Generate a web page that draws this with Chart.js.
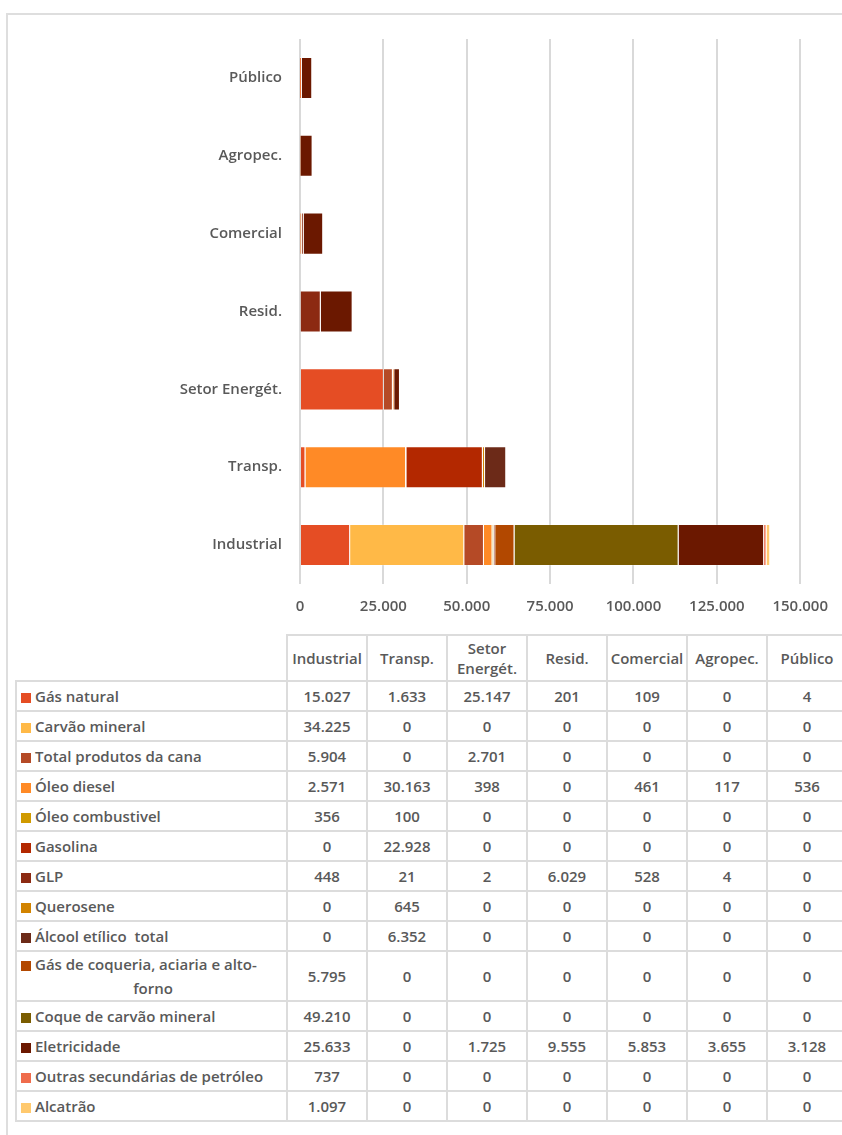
<!DOCTYPE html>
<html>
<head>
<meta charset="utf-8">
<script src="https://cdn.jsdelivr.net/npm/chart.js@4"></script>
<style>
  html, body { margin: 0; padding: 0; background: #fff; width: 842px; height: 1135px; overflow: hidden; position: relative; }
  body { font-family: "Open Sans", sans-serif; color: #595959; }
  #frame { position: absolute; left: 6px; top: 13px; width: 900px; height: 1200px; border: 2px solid #dedede; box-sizing: border-box; }
  #chart { position: absolute; left: 0; top: 0; }
  #tbl { position: absolute; left: 15px; top: 634px; width: 831px; border-collapse: collapse; table-layout: fixed; font-size: 15px; font-weight: 600; }
  #tbl td, #tbl th { border: 2px solid #dcdcdc; padding: 0 1px; font-weight: 600; text-align: center; line-height: 20px; }
  #tbl th.corner { border-top: hidden; border-left: hidden; }
  #tbl tr.head { height: 46px; }
  #tbl tr.row { height: 30px; }
  #tbl td.lab { text-align: left; padding-left: 4px; white-space: pre-wrap; line-height: 24px; }
  #tbl td.lab.wrap { text-align: left; text-align-last: center; }
  .sw { display: inline-block; width: 10px; height: 10px; margin-right: 4px; vertical-align: -1px; }
</style>
</head>
<body>
<div id="frame"></div>
<canvas id="chart" width="842" height="624"></canvas>
<table id="tbl"></table>
<script>
// categories (table order, bottom to top in the chart)
const categories = ['Industrial', 'Transp.', 'Setor Energét.', 'Resid.', 'Comercial', 'Agropec.', 'Público'];

// series values per category
const gasNatural       = [15027, 1633, 25147, 201, 109, 0, 4];
const carvaoMineral    = [34225, 0, 0, 0, 0, 0, 0];
const produtosCana     = [5904, 0, 2701, 0, 0, 0, 0];
const oleoDiesel       = [2571, 30163, 398, 0, 461, 117, 536];
const oleoCombustivel  = [356, 100, 0, 0, 0, 0, 0];
const gasolina         = [0, 22928, 0, 0, 0, 0, 0];
const glp              = [448, 21, 2, 6029, 528, 4, 0];
const querosene        = [0, 645, 0, 0, 0, 0, 0];
const alcoolEtilico    = [0, 6352, 0, 0, 0, 0, 0];
const gasCoqueria      = [5795, 0, 0, 0, 0, 0, 0];
const coqueCarvao      = [49210, 0, 0, 0, 0, 0, 0];
const eletricidade     = [25633, 0, 1725, 9555, 5853, 3655, 3128];
const outrasPetroleo   = [737, 0, 0, 0, 0, 0, 0];
const alcatrao         = [1097, 0, 0, 0, 0, 0, 0];

const seriesNames = ['Gás natural', 'Carvão mineral', 'Total produtos da cana', 'Óleo diesel', 'Óleo combustivel',
  'Gasolina', 'GLP', 'Querosene', 'Álcool etílico  total', 'Gás de coqueria, aciaria e alto-forno',
  'Coque de carvão mineral', 'Eletricidade', 'Outras secundárias de petróleo', 'Alcatrão'];
const seriesValues = [gasNatural, carvaoMineral, produtosCana, oleoDiesel, oleoCombustivel, gasolina, glp,
  querosene, alcoolEtilico, gasCoqueria, coqueCarvao, eletricidade, outrasPetroleo, alcatrao];
const seriesColors = ['#e54d24', '#ffb947', '#b54a26', '#ff8a26', '#d09a00', '#b32800', '#8c2a12',
  '#d28300', '#6c2a18', '#b24800', '#7a5c00', '#6b1800', '#ef6c4c', '#ffc96e'];

// x axis ticks
const xTicks = [0, 25000, 50000, 75000, 100000, 125000, 150000];

function fmt(v) {
  return String(v).replace(/\B(?=(\d{3})+(?!\d))/g, '.');
}

const datasets = seriesNames.map((name, i) => ({
  label: name,
  data: seriesValues[i],
  backgroundColor: seriesColors[i],
  borderColor: 'rgba(255,255,255,0.2)',
  borderWidth: 1,
  barPercentage: 0.54,
  categoryPercentage: 1
}));

const tickFont = { family: 'Open Sans', size: 15, weight: '600' };

new Chart(document.getElementById('chart'), {
  type: 'bar',
  data: { labels: categories, datasets: datasets },
  options: {
    indexAxis: 'y',
    responsive: false,
    animation: false,
    layout: { padding: { top: 39, right: 39, left: 0, bottom: 0 } },
    plugins: { legend: { display: false }, tooltip: { enabled: false } },
    scales: {
      x: {
        stacked: true,
        min: 0,
        max: 150000,
        afterBuildTicks: (scale) => { scale.ticks = xTicks.map(v => ({ value: v })); },
        afterFit: (scale) => { scale.height = 40; },
        grid: { color: '#d9d9d9', lineWidth: 2, drawTicks: false },
        border: { display: false },
        ticks: { color: '#595959', font: tickFont, padding: 14, callback: v => fmt(v) }
      },
      y: {
        stacked: true,
        reverse: true,
        afterFit: (scale) => { scale.width = 300; },
        grid: { display: false, drawTicks: false },
        border: { display: false },
        ticks: { color: '#595959', font: tickFont, padding: 18 }
      }
    }
  }
});

// data table under the chart
const tbl = document.getElementById('tbl');
let html = '<colgroup><col style="width:271px">' + categories.map(() => '<col style="width:80px">').join('') + '</colgroup>';
html += '<tr class="head"><th class="corner"></th>' + categories.map(c => '<th>' + c + '</th>').join('') + '</tr>';
seriesNames.forEach((name, i) => {
  const wrap = name.length > 32 ? ' wrap' : '';
  html += '<tr class="row"><td class="lab' + wrap + '"><span class="sw" style="background:' + seriesColors[i] + '"></span>' + name + '</td>' +
    seriesValues[i].map(v => '<td>' + fmt(v) + '</td>').join('') + '</tr>';
});
tbl.innerHTML = html;
</script>
</body>
</html>
